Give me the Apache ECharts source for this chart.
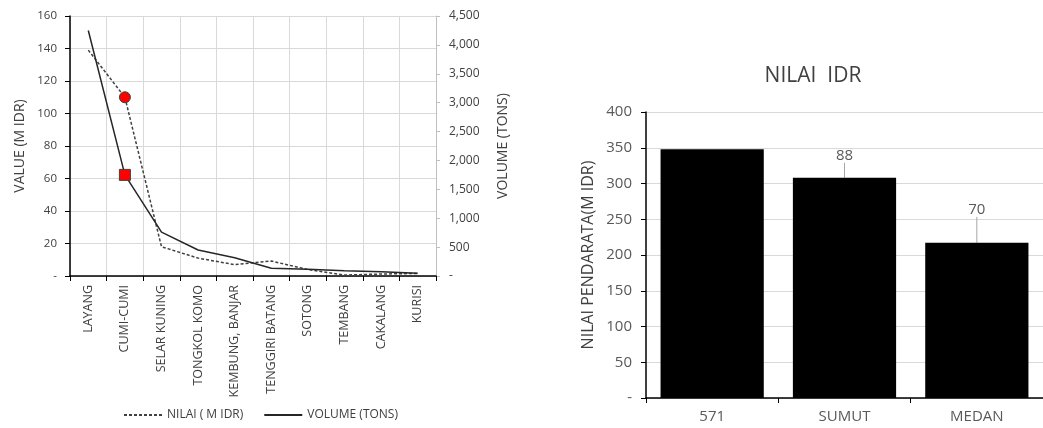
<!DOCTYPE html>
<html>
<head>
<meta charset="utf-8">
<script src="https://cdn.jsdelivr.net/npm/echarts@6/dist/echarts.min.js"></script>
<style>html,body{margin:0;padding:0;background:#fff}#c{width:1043px;height:428px}</style>
</head>
<body>
<div id="c"></div>
<script>
const species = ['LAYANG','CUMI-CUMI','SELAR KUNING','TONGKOL KOMO','KEMBUNG, BANJAR','TENGGIRI BATANG','SOTONG','TEMBANG','CAKALANG','KURISI'];
const nilai = [139, 110, 18, 11, 7, 9.2, 4, 0.6, 1.2, 1.6];
const volume = [4250, 1750, 760, 450, 317, 135, 116, 92, 75, 46];
const highlightIndex = 1;
const regions = ['571','SUMUT','MEDAN'];
const avgValue = [348, 308, 217];
const barLabels = ['', '88', '70'];

const font = 'Open Sans, Liberation Sans, sans-serif';
const txt = '#595959';
const grid = '#d9d9d9';
const labelLift = [0, -11, -22];

const zeroDash = v => v === 0 ? '-' : v.toLocaleString('en-US');

const chart = echarts.init(document.getElementById('c'));
chart.setOption({
  animation: false,
  textStyle: {fontFamily: font},
  title: {
    text: 'NILAI  IDR', left: 808, top: 61, textAlign: 'center',
    textStyle: {fontSize: 21, fontWeight: 'normal', color: '#404040', fontFamily: font}
  },
  legend: {
    left: 118, top: 404, itemWidth: 38, itemHeight: 10, itemGap: 20,
    textStyle: {fontSize: 12, color: '#404040'},
    itemStyle: {opacity: 0},
    data: ['NILAI ( M IDR)', 'VOLUME (TONS)']
  },
  grid: [
    {left: 70, top: 16, width: 366, height: 260},
    {left: 646, top: 112, width: 404, height: 286}
  ],
  xAxis: [
    {
      type: 'category', gridIndex: 0, data: species, boundaryGap: true,
      axisLine: {lineStyle: {color: '#000', width: 1.5}},
      axisTick: {show: true, length: 5, lineStyle: {color: '#000'}},
      axisLabel: {rotate: 90, fontSize: 12.5, color: '#404040', margin: 9, interval: 0},
      splitLine: {show: true, lineStyle: {color: grid}}
    },
    {
      type: 'category', gridIndex: 1, data: regions,
      axisLine: {lineStyle: {color: '#000', width: 1.5}},
      axisTick: {show: true, length: 5, lineStyle: {color: '#000'}},
      axisLabel: {fontSize: 15, color: txt, margin: 11}
    }
  ],
  yAxis: [
    {
      type: 'value', gridIndex: 0, min: 0, max: 160, interval: 20,
      name: 'VALUE (M IDR)', nameLocation: 'middle', nameGap: 43, nameRotate: 90,
      nameTextStyle: {fontSize: 14, color: '#404040'},
      axisLine: {show: true, lineStyle: {color: '#000', width: 1.5}},
      axisTick: {show: true, length: 5, lineStyle: {color: '#000'}},
      axisLabel: {fontSize: 11.5, color: '#404040', margin: 13, formatter: zeroDash},
      splitLine: {show: true, lineStyle: {color: grid}}
    },
    {
      type: 'value', gridIndex: 0, position: 'right', min: 0, max: 4500, interval: 500,
      name: 'VOLUME (TONS)', nameLocation: 'middle', nameGap: 60, nameRotate: 90,
      nameTextStyle: {fontSize: 14, color: '#404040'},
      axisLine: {show: true, lineStyle: {color: '#bfbfbf', width: 1}},
      axisTick: {show: true, length: 4, lineStyle: {color: '#bfbfbf'}},
      axisLabel: {fontSize: 12, color: '#404040', margin: 13, align: 'left', formatter: zeroDash},
      splitLine: {show: false}
    },
    {
      type: 'value', gridIndex: 1, min: 0, max: 400, interval: 50,
      name: 'NILAI PENDARATA(M IDR)', nameLocation: 'middle', nameGap: 50, nameRotate: 90,
      nameTextStyle: {fontSize: 16, color: '#404040'},
      axisLine: {show: true, lineStyle: {color: '#000', width: 1.5}},
      axisTick: {show: true, length: 5, lineStyle: {color: '#000'}},
      axisLabel: {fontSize: 15, color: txt, margin: 14, formatter: zeroDash},
      splitLine: {show: true, lineStyle: {color: grid}}
    }
  ],
  series: [
    {
      name: 'NILAI ( M IDR)', type: 'line', xAxisIndex: 0, yAxisIndex: 0,
      symbol: 'none', showSymbol: true,
      lineStyle: {color: '#404040', width: 1.5, type: [3, 2]},
      itemStyle: {color: '#404040'},
      data: nilai.map((v, i) => i === highlightIndex
        ? {value: v, symbol: 'circle', symbolSize: 11, itemStyle: {color: '#ff0000', borderColor: '#404040', borderWidth: 1}}
        : v)
    },
    {
      name: 'VOLUME (TONS)', type: 'line', xAxisIndex: 0, yAxisIndex: 1,
      symbol: 'none', showSymbol: true,
      lineStyle: {color: '#262626', width: 1.5},
      itemStyle: {color: '#262626'},
      data: volume.map((v, i) => i === highlightIndex
        ? {value: v, symbol: 'rect', symbolSize: 11, itemStyle: {color: '#ff0000', borderColor: '#404040', borderWidth: 1}}
        : v),
      z: 3
    },
    {
      type: 'bar', xAxisIndex: 1, yAxisIndex: 2, barWidth: '78%',
      itemStyle: {color: '#000'},
      data: avgValue.map((v, i) => barLabels[i]
        ? v
        : {value: v, label: {show: false}, labelLine: {show: false}}),
      label: {
        show: true, position: 'top', distance: 4, fontSize: 15, color: txt,
        formatter: p => barLabels[p.dataIndex]
      },
      labelLayout: p => ({dy: labelLift[p.dataIndex]}),
      labelLine: {show: true, lineStyle: {color: '#a6a6a6', width: 1}}
    }
  ]
});
</script>
</body>
</html>
